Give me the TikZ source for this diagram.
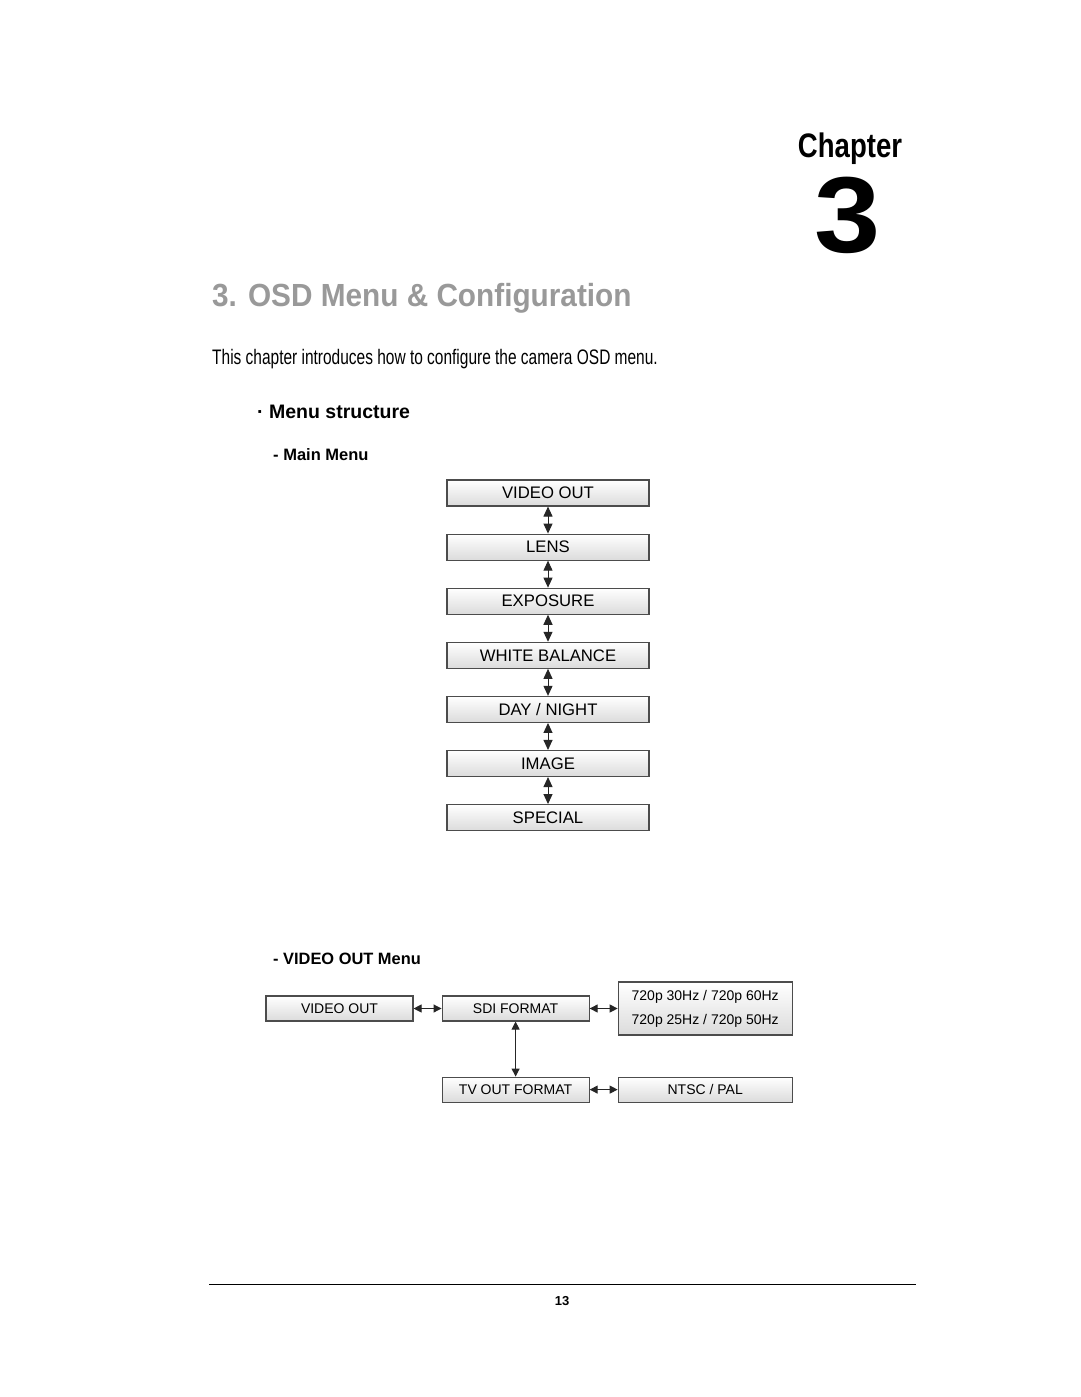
\documentclass[tikz,border=0pt]{standalone}
\usepackage{fontspec}
\setmainfont{Liberation Sans}
\usetikzlibrary{arrows.meta, positioning}

\definecolor{titlegray}{gray}{0.6}

\tikzset{
  mbox/.style={draw=black!70, line width=1.1pt, top color=white, bottom color=black!14,
    minimum width=202pt, minimum height=26pt, inner sep=0pt, font=\fontsize{16.7}{18}\selectfont},
  sbox/.style={mbox, minimum width=147pt, minimum height=25pt, font=\fontsize{14}{16}\selectfont},
  wbox/.style={sbox, minimum width=174pt},
  vlink/.style={{Triangle[width=9pt,length=10pt]}-{Triangle[width=9pt,length=10pt]}, line width=1pt, black!85},
  hlink/.style={{Triangle[width=8pt,length=8pt]}-{Triangle[width=8pt,length=8pt]}, line width=1pt, black!85}
}

\begin{document}
\begin{tikzpicture}[x=1pt, y=-1pt]
          \useasboundingbox[fill=white] (0,0) rectangle (1080,1397);

          % chapter heading
          \node[anchor=base, font=\bfseries\fontsize{34}{36}\selectfont] (chap) at (850,157) {\scalebox{0.81}[1]{Chapter}};
          \node[anchor=base, font=\bfseries\fontsize{108}{110}\selectfont] (num) at (848,252) {\scalebox{1.1}[1]{3}};
          \node[anchor=base west, inner sep=0pt, text=titlegray, font=\bfseries\fontsize{32}{34}\selectfont] (title) at (212,306) {\scalebox{0.93}[1]{3. OSD Menu \& Configuration}};
          \node[anchor=base west, inner sep=0pt, font=\fontsize{21}{23}\selectfont] (intro) at (212,364) {\scalebox{0.737}[1]{This chapter introduces how to configure the camera OSD menu.}};
          \node[anchor=base west, inner sep=0pt, font=\bfseries\fontsize{19.5}{21}\selectfont] (struct) at (257,418) {· Menu structure};
          \node[anchor=base west, inner sep=0pt, font=\bfseries\fontsize{16.5}{18}\selectfont] (mainlbl) at (273,460) {- Main Menu};

          % main menu
          \node[mbox] (vout) at (548,493) {VIDEO OUT};
          \node[mbox] (lens) [below=27pt of vout] {LENS};
          \node[mbox] (expo) [below=27pt of lens] {EXPOSURE};
          \node[mbox] (wb) [below=27pt of expo] {WHITE BALANCE};
          \node[mbox] (dn) [below=27pt of wb] {DAY / NIGHT};
          \node[mbox] (img) [below=27pt of dn] {IMAGE};
          \node[mbox] (spec) [below=27pt of img] {SPECIAL};

          \draw[vlink] (vout) -- (lens);
          \draw[vlink] (lens) -- (expo);
          \draw[vlink] (expo) -- (wb);
          \draw[vlink] (wb) -- (dn);
          \draw[vlink] (dn) -- (img);
          \draw[vlink] (img) -- (spec);

          % video out menu
          \node[anchor=base west, inner sep=0pt, font=\bfseries\fontsize{16.4}{18}\selectfont] (voutlbl) at (273,964) {- VIDEO OUT Menu};
          \node[sbox] (vo) at (339.5,1008.5) {VIDEO OUT};
          \node[sbox] (sdi) [right=28pt of vo] {SDI FORMAT};
          \node[wbox, minimum height=53pt, align=center, font=\fontsize{14}{24}\selectfont] (fmt) [right=28pt of sdi] {720p 30Hz / 720p 60Hz\\720p 25Hz / 720p 50Hz};
          \node[sbox] (tv) [below=55pt of sdi] {TV OUT FORMAT};
          \node[wbox] (ntsc) [right=28pt of tv] {NTSC / PAL};

          \draw[hlink] (vo) -- (sdi);
          \draw[hlink] (sdi) -- (fmt);
          \draw[hlink] (sdi) -- (tv);
          \draw[hlink] (tv) -- (ntsc);

          % footer
          \coordinate (fl) at (209,1284);
          \coordinate (fr) at (916,1284);
          \draw[line width=1pt] (fl) -- (fr);
          \node[anchor=base, font=\bfseries\fontsize{13}{15}\selectfont] (page) at (562,1305) {13};
\end{tikzpicture}
\end{document}
